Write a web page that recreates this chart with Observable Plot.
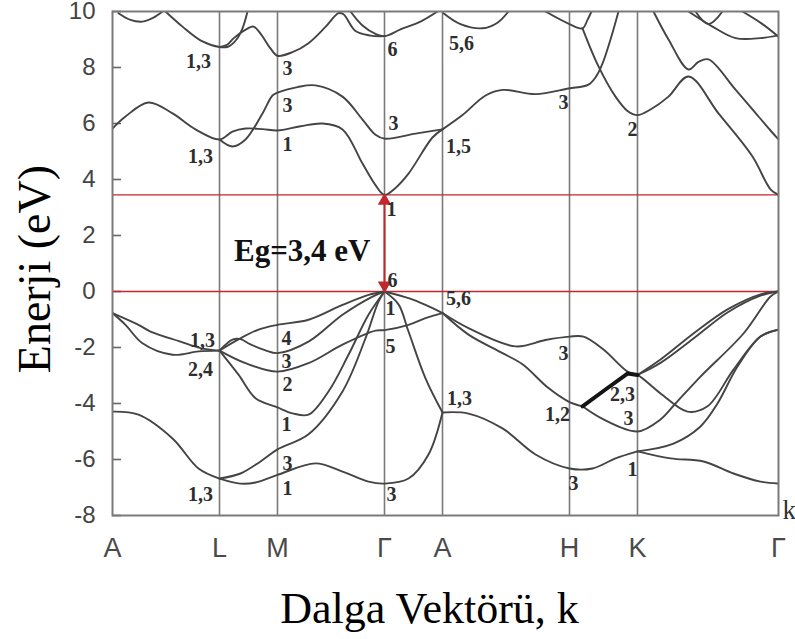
<!DOCTYPE html>
<html>
<head>
<meta charset="utf-8">
<script src="https://cdn.jsdelivr.net/npm/d3@7"></script>
<script src="https://cdn.jsdelivr.net/npm/@observablehq/plot@0.6"></script>
<style>
  html, body { margin: 0; padding: 0; background: #fff; }
  #chart { width: 795px; height: 639px; }
</style>
</head>
<body>
<div id="chart"></div>
<script>
// ---- high-symmetry k points (path length, arbitrary units) ----
const kLabels = ["A", "L", "M", "Γ", "A", "H", "K", "Γ"];
const kPos = [0, 1.07, 1.65, 2.72, 3.30, 4.57, 5.25, 6.66];
const yTicks = [-8, -6, -4, -2, 0, 2, 4, 6, 8, 10];
const gapEdges = [0, 3.45];           // valence max, conduction min (eV)
const gapText = "Eg=3,4 eV";
const yTitle = "Enerji (eV)";
const xTitle = "Dalga Vektörü, k";

// ---- conduction bands: [k, E] ----
const conductionBands = [
  [[0.06,9.94],[0.18,9.7],[0.30,9.64],[0.41,9.78],[0.50,10]],
  [[0.53,10],[0.70,9.46],[0.90,8.93],[1.07,8.73],[1.16,8.75],[1.24,9.0],[1.30,9.4],[1.35,10]],
  [[1.07,8.73],[1.15,8.82],[1.21,9.04],[1.35,9.39],[1.41,9.46],[1.48,9.21],[1.58,8.68],[1.65,8.42],[1.80,8.55],[1.96,8.87],[2.13,9.45],[2.26,9.94],[2.31,9.9],[2.43,9.3],[2.58,9.14],[2.72,9.12]],
  [[2.38,10],[2.50,9.5],[2.63,9.2],[2.72,9.12],[2.88,9.36],[3.08,9.64],[3.25,10]],
  [[3.31,9.94],[3.48,9.55],[3.70,9.4],[3.85,9.6],[3.96,10]],
  [[4.33,10],[4.57,9.55],[4.70,9.4],[4.75,9.7],[4.79,10]],
  [[4.70,9.4],[4.86,8.04],[5.03,6.96],[5.15,6.45],[5.25,6.3],[5.38,6.5],[5.56,6.96],[5.76,7.68],[6.06,6.36],[6.40,4.82],[6.58,3.65],[6.66,3.45]],
  [[5.41,10],[5.56,9.0],[5.76,7.93],[5.86,8.2],[5.96,8.29],[6.23,7.21],[6.46,6.25],[6.58,5.75],[6.66,5.43]],
  [[5.83,10],[5.96,9.55],[6.10,10]],
  [[5.76,10],[6.00,9.46],[6.23,9.05],[6.48,9.05],[6.66,9.15]],
  [[6.30,10],[6.50,9.55],[6.66,9.1]],
  [[0,5.82],[0.13,6.25],[0.36,6.75],[0.60,6.36],[0.83,5.79],[1.07,5.43],[1.20,5.71],[1.33,5.82],[1.50,5.8],[1.65,5.75],[1.88,5.9],[2.10,6.0],[2.30,5.79],[2.50,4.57],[2.63,3.8],[2.72,3.45],[2.83,3.7],[2.96,4.21],[3.20,5.5],[3.30,5.79]],
  [[1.07,5.43],[1.20,5.18],[1.33,5.43],[1.50,6.36],[1.60,7.0],[1.65,7.1],[1.85,7.3],[2.03,7.36],[2.30,6.96],[2.50,6.14],[2.63,5.6],[2.72,5.46],[3.03,5.64],[3.30,5.79]],
  [[3.30,5.79],[3.50,6.3],[3.73,7.0],[3.90,7.2],[4.23,7.05],[4.56,7.25],[4.76,7.39],[4.84,7.7],[4.90,8.14],[4.98,9.0],[5.06,10]]
];

// ---- valence bands: [k, E] ----
const valenceBands = [
  [[0,-0.77],[0.26,-1.19],[0.38,-1.43],[0.68,-1.79],[0.88,-2.02],[1.07,-2.11]],
  [[0,-0.77],[0.13,-1.19],[0.30,-1.85],[0.60,-2.26],[0.86,-2.14],[1.07,-2.11]],
  [[0,-4.29],[0.26,-4.4],[0.60,-5.25],[0.86,-6.32],[1.07,-6.68]],
  [[1.07,-2.11],[1.26,-1.71],[1.46,-1.36],[1.65,-1.19],[1.96,-1.01],[2.30,-0.48],[2.56,-0.12],[2.72,0]],
  [[1.07,-2.11],[1.20,-1.72],[1.28,-1.70],[1.38,-1.89],[1.53,-2.1],[1.65,-2.2],[1.96,-1.79],[2.30,-0.83],[2.60,-0.18],[2.72,0]],
  [[1.07,-2.11],[1.33,-2.56],[1.65,-2.86],[1.96,-2.56],[2.30,-1.9],[2.63,-1.4],[2.72,-1.38],[2.96,-1.19],[3.13,-0.95],[3.30,-0.77]],
  [[1.07,-2.11],[1.26,-2.97],[1.43,-3.81],[1.65,-4.14],[1.80,-4.35],[1.96,-4.4],[2.16,-3.57],[2.36,-2.26],[2.56,-0.83],[2.72,0]],
  [[1.07,-6.68],[1.28,-6.5],[1.48,-6.07],[1.65,-5.64],[1.96,-5.1],[2.30,-3.57],[2.53,-1.67],[2.66,-0.36],[2.72,0]],
  [[1.07,-6.68],[1.28,-6.86],[1.43,-6.82],[1.65,-6.55],[2.03,-6.14],[2.30,-6.43],[2.56,-6.79],[2.72,-6.86],[2.96,-6.68],[3.16,-5.82],[3.30,-4.32]],
  [[2.72,0],[2.86,-0.46],[2.96,-1.43],[3.13,-3.1],[3.30,-4.32]],
  [[2.72,0],[2.96,-0.24],[3.13,-0.48],[3.30,-0.77]],
  [[3.30,-0.77],[3.56,-1.31],[4.03,-1.96],[4.33,-1.73],[4.57,-1.61],[4.71,-1.61],[4.91,-2.07],[5.15,-2.86],[5.25,-2.98],[5.48,-3.64],[5.75,-4.29],[5.95,-4.1],[6.21,-2.79],[6.48,-1.61],[6.66,-1.36]],
  [[3.30,-0.77],[3.56,-1.54],[3.90,-2.2],[4.10,-2.6],[4.36,-3.45],[4.56,-3.93],[4.70,-4.1]],
  [[4.70,-4.1],[4.91,-4.57],[5.25,-5.0],[5.48,-4.57],[5.63,-4.0],[5.88,-3.04],[6.31,-1.5],[6.58,-0.18],[6.66,0]],
  [[5.25,-2.98],[5.48,-2.43],[5.81,-1.5],[6.15,-0.64],[6.48,-0.1],[6.66,0]],
  [[5.25,-2.98],[5.48,-2.55],[5.81,-1.68],[6.15,-0.75],[6.48,-0.15],[6.66,0]],
  [[5.25,-5.71],[5.61,-5.43],[5.88,-4.82],[6.05,-4.0],[6.25,-2.68],[6.48,-1.61],[6.66,-1.36]],
  [[5.25,-5.71],[5.58,-5.96],[5.91,-6.07],[6.21,-6.5],[6.48,-6.79],[6.66,-6.86]],
  [[3.30,-4.32],[3.56,-4.36],[3.90,-4.89],[4.23,-5.82],[4.57,-6.32],[4.80,-6.32],[5.03,-5.96],[5.25,-5.71]]
];

// highlighted (thick) H–K segment
const thickBand = [[4.70,-4.1],[4.93,-3.5],[5.15,-2.93],[5.25,-2.98]];

// ---- degeneracy labels: [text, k, E] ----
const bandLabels = [
  ["1,3",0.86,8.21],["3",1.75,7.96],["6",2.80,8.64],["5,6",3.49,8.86],
  ["3",1.75,6.64],["1,3",0.88,4.82],["1",1.75,5.25],["3",2.81,6.0],
  ["1,5",3.46,5.18],["3",4.51,6.75],["2",5.20,5.79],["1",2.79,2.93],
  ["6",2.80,0.39],["5,6",3.46,-0.25],["1",2.78,-0.61],["5",2.78,-1.96],
  ["1,3",0.90,-1.75],["2,4",0.88,-2.79],["4",1.74,-1.68],["3",1.74,-2.5],
  ["2",1.75,-3.32],["1",1.74,-4.75],["3",1.75,-6.14],["1",1.75,-7.04],
  ["3",2.79,-7.25],["1,3",0.88,-7.25],["1,3",3.47,-3.82],["3",4.51,-2.21],
  ["1,2",4.45,-4.39],["2,3",5.10,-3.68],["3",5.16,-4.54],["1",5.20,-6.36],
  ["3",4.61,-6.86]
];

// ---- build tidy rows for Plot ----
const bandRows = [];
[...conductionBands, ...valenceBands].forEach((b, id) =>
  b.forEach(([k, E]) => bandRows.push({id, k, E})));
const thickRows = thickBand.map(([k, E]) => ({k, E}));
const labelRows = bandLabels.map(([t, k, E]) => ({t, k, E}));
const kName = new Map(kPos.map((p, i) => [p, kLabels[i]]));
const gammaK = kPos[3];
const red = "#c1272d";

const chart = Plot.plot({
  width: 795,
  height: 639,
  marginLeft: 112,
  marginRight: 17,
  marginTop: 11,
  marginBottom: 124,
  style: {background: "#fff", overflow: "visible"},
  x: {domain: [kPos[0], kPos[kPos.length - 1]]},
  y: {domain: [-8, 10]},
  marks: [
    Plot.ruleX(kPos.slice(1, -1), {stroke: "#7a7a7a", strokeWidth: 1.6}),
    Plot.ruleY(yTicks, {x1: kPos[0], x2: kPos[0] + 0.09, stroke: "#666", strokeWidth: 1.6}),
    Plot.ruleY(gapEdges, {stroke: red, strokeWidth: 1.3}),
    Plot.line(bandRows, {x: "k", y: "E", z: "id", curve: "catmull-rom",
      stroke: "#444", strokeWidth: 1.9, clip: true}),
    Plot.line(thickRows, {x: "k", y: "E", curve: "linear", stroke: "#151515", strokeWidth: 4}),
    Plot.ruleX([gammaK], {y1: gapEdges[0], y2: gapEdges[1], stroke: red, strokeWidth: 2}),
    Plot.dot([gapEdges[1]], {x: () => gammaK, y: d => d, symbol: "triangle", r: 5,
      fill: red, stroke: "none", dy: 6}),
    Plot.dot([gapEdges[0]], {x: () => gammaK, y: d => d, symbol: "triangle", r: 5,
      fill: red, stroke: "none", rotate: 180, dy: -6}),
    Plot.text(labelRows, {x: "k", y: "E", text: "t", fontFamily: "Liberation Serif",
      fontWeight: "bold", fontSize: 20, fill: "#2e2e2e", textAnchor: "middle", lineAnchor: "middle"}),
    Plot.text([gapText], {x: () => gammaK, y: () => 1.45, text: d => d, dx: -14,
      textAnchor: "end", lineAnchor: "middle", fontFamily: "Liberation Serif",
      fontWeight: "bold", fontSize: 31, fill: "#111"}),
    Plot.frame({stroke: "#7a7a7a", strokeWidth: 2}),
    Plot.axisY({ticks: yTicks, tickSize: 0, tickPadding: 17, tickFormat: d => String(d),
      fontSize: 24, fontFamily: "Liberation Sans", color: "#444", label: null}),
    Plot.axisX({ticks: kPos, tickSize: 0, tickPadding: 22, tickFormat: d => kName.get(d),
      fontSize: 27, fontFamily: "Liberation Sans", color: "#4a4a4a", label: null}),
    Plot.text(["k"], {x: () => kPos[kPos.length - 1], y: () => -8, text: d => d,
      dx: 4, dy: 3, textAnchor: "start", lineAnchor: "bottom",
      fontFamily: "Liberation Serif", fontSize: 27, fill: "#333"}),
    Plot.text([xTitle], {x: () => 3.17, y: () => -8, text: d => d, dy: 107,
      textAnchor: "middle", lineAnchor: "bottom", fontFamily: "Liberation Serif",
      fontSize: 44, fill: "#000"}),
    Plot.text([yTitle], {x: () => 0, y: () => 0.8, text: d => d, dx: -77, rotate: -90,
      textAnchor: "middle", lineAnchor: "middle", fontFamily: "Liberation Serif",
      fontSize: 46, fill: "#000"})
  ]
});
document.getElementById("chart").appendChild(chart);
</script>
</body>
</html>
